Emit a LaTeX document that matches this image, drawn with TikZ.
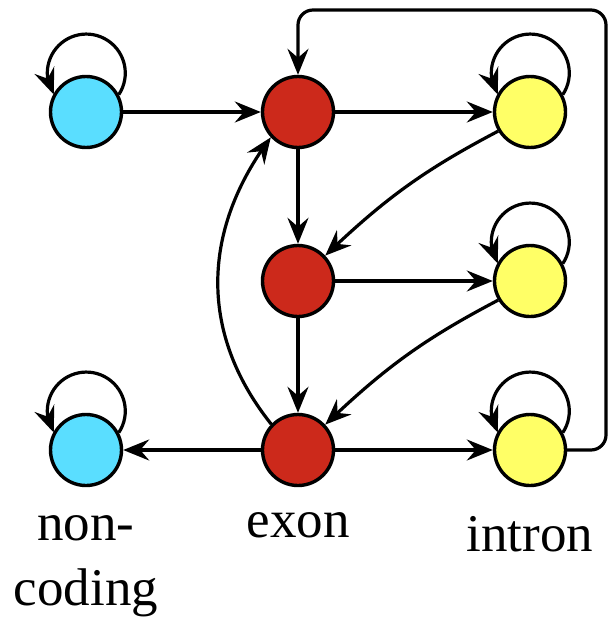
\documentclass[tikz,border=0pt]{standalone}
\usepackage{fontspec}
\setmainfont{Liberation Serif}
\usetikzlibrary{arrows.meta,bending}
\definecolor{ncblue}{RGB}{90,222,255}
\definecolor{exred}{RGB}{204,41,27}
\definecolor{inyellow}{RGB}{255,255,102}
\tikzset{
  state/.style={circle,draw=black,line width=3.4pt,minimum size=71pt,inner sep=0pt},
  bstate/.style={state,fill=ncblue},
  rstate/.style={state,fill=exred},
  ystate/.style={state,fill=inyellow},
  arr/.style={line width=3.2pt,-{Stealth[length=26pt,width=21pt,inset=9pt]}},
  lbl/.style={font=\fontsize{53}{64}\selectfont,anchor=base,inner sep=0pt},
}
\newcommand{\selfloop}[1]{\draw[arr] (#1.28) arc[start angle=-33.4,end angle=213.4,radius=39pt];}
\begin{document}
\begin{tikzpicture}[x=1pt,y=1pt]
\useasboundingbox (0,0) rectangle (609,-618);
\node[bstate] (b1) at (86,-112) {};
\node[rstate] (r1) at (298,-112) {};
\node[ystate] (y1) at (530,-112) {};
\node[rstate] (r2) at (298,-281) {};
\node[ystate] (y2) at (530,-281) {};
\node[bstate] (b2) at (86,-450) {};
\node[rstate] (r3) at (298,-450) {};
\node[ystate] (y3) at (530,-450) {};
\coordinate (c1) at (606,-450);
\coordinate (c2) at (606,-10);
\coordinate (c3) at (298,-10);
\selfloop{b1}
\selfloop{y1}
\selfloop{y2}
\selfloop{b2}
\selfloop{y3}
\draw[arr] (b1) -- (r1);
\draw[arr] (r1) -- (y1);
\draw[arr] (r1) -- (r2);
\draw[arr] (r2) -- (y2);
\draw[arr] (r2) -- (r3);
\draw[arr] (r3) -- (b2);
\draw[arr] (r3) -- (y3);
\draw[arr] (y1.211) to[bend right=8] (r2.43);
\draw[arr] (y2.211) to[bend right=8] (r3.43);
\draw[arr] (r3.136) .. controls (200,-335) and (200,-232) .. (r1.223);
\draw[arr,rounded corners=15pt] (y3.east) -- (c1) -- (c2) -- (c3) -- (r1.north);
\node[lbl] (t1) at (86,-540) {non-};
\node[lbl] (t2) at (86,-605) {coding};
\node[lbl] (t3) at (298,-537) {exon};
\node[lbl] (t4) at (530,-551) {intron};
\end{tikzpicture}
\end{document}
